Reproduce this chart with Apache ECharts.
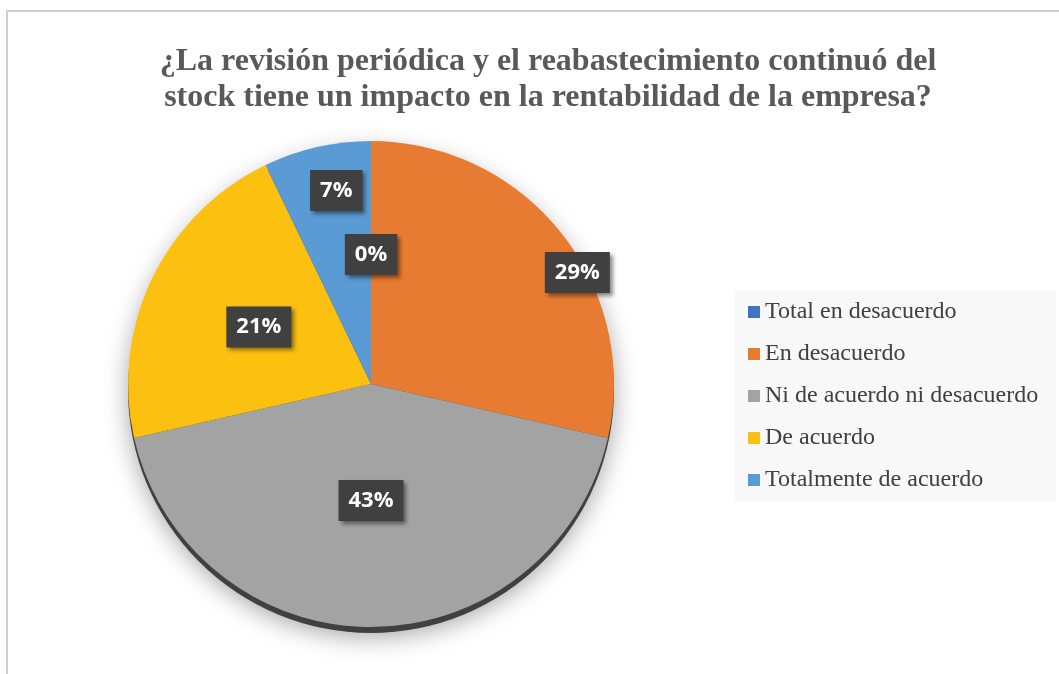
<!DOCTYPE html>
<html>
<head>
<meta charset="utf-8">
<script src="https://cdn.jsdelivr.net/npm/echarts@6/dist/echarts.min.js"></script>
<style>
  html, body { margin: 0; padding: 0; background: #fff; }
  #chart { width: 1059px; height: 674px; }
  .frame {
    position: absolute; left: 6px; top: 10px; right: 0; bottom: 0;
    border-left: 2px solid #cfcfcf; border-top: 2px solid #cfcfcf;
    pointer-events: none;
  }
</style>
</head>
<body>
<div id="chart"></div>
<div class="frame"></div>
<script>
  // respuestas (14 encuestados)
  const categories = ['Total en desacuerdo', 'En desacuerdo', 'Ni de acuerdo ni desacuerdo', 'De acuerdo', 'Totalmente de acuerdo'];
  const counts = [0, 4, 6, 3, 1];
  const colors = ['#4472C4', '#E87B32', '#A3A3A3', '#FBC010', '#5B9BD5'];
  const titleLines = ['¿La revisión periódica y el reabastecimiento continuó del', 'stock tiene un impacto en la rentabilidad de la empresa?'];

  // desplazamiento de etiquetas (tipo "ajuste óptimo" de Excel)
  const labelNudge = [[0, -5], [109, -34], [0, -8], [0, -3], [-7, -72]];

  const chart = echarts.init(document.getElementById('chart'));

  const pieData = categories.map((name, i) => ({
    name: name,
    value: counts[i],
    itemStyle: {color: colors[i]},
    label: {offset: labelNudge[i]}
  }));

  const option = {
    animation: false,
    graphic: [{
      type: 'text',
      x: 548,
      y: 44,
      silent: true,
      style: {
        text: titleLines.join('\n'),
        align: 'center',
        verticalAlign: 'top',
        fontFamily: 'Liberation Serif',
        fontWeight: 'bold',
        fontSize: 32,
        lineHeight: 36,
        fill: '#595959'
      }
    }],
    legend: {
      orient: 'vertical',
      left: 735,
      top: 290,
      data: categories,
      icon: 'rect',
      itemWidth: 12,
      itemHeight: 12,
      itemGap: 18,
      backgroundColor: '#f8f8f8',
      padding: [10, 18, 10, 13],
      selectedMode: false,
      textStyle: {
        fontFamily: 'Liberation Serif',
        fontSize: 24,
        color: '#404040'
      }
    },
    series: [
      {
        // base oscura (efecto 3D)
        type: 'pie',
        silent: true,
        center: [371, 390],
        radius: 243,
        label: {show: false},
        labelLine: {show: false},
        itemStyle: {
          color: '#404040',
          shadowBlur: 25,
          shadowColor: 'rgba(0,0,0,0.35)',
          shadowOffsetY: 4
        },
        data: [{value: 1, name: 'base'}]
      },
      {
        type: 'pie',
        silent: true,
        center: [371, 384],
        radius: 243,
        startAngle: 90,
        clockwise: true,
        percentPrecision: 0,
        avoidLabelOverlap: false,
        label: {
          show: true,
          position: 'inside',
          formatter: '{d}%',
          color: '#fff',
          fontFamily: 'Open Sans',
          fontWeight: 'bold',
          fontSize: 22,
          backgroundColor: '#404040',
          padding: [10, 10, 9, 10],
          shadowColor: 'rgba(0,0,0,0.45)',
          shadowBlur: 4,
          shadowOffsetX: 3,
          shadowOffsetY: 3
        },
        labelLine: {show: false},
        data: pieData
      }
    ]
  };

  chart.setOption(option);
</script>
</body>
</html>
